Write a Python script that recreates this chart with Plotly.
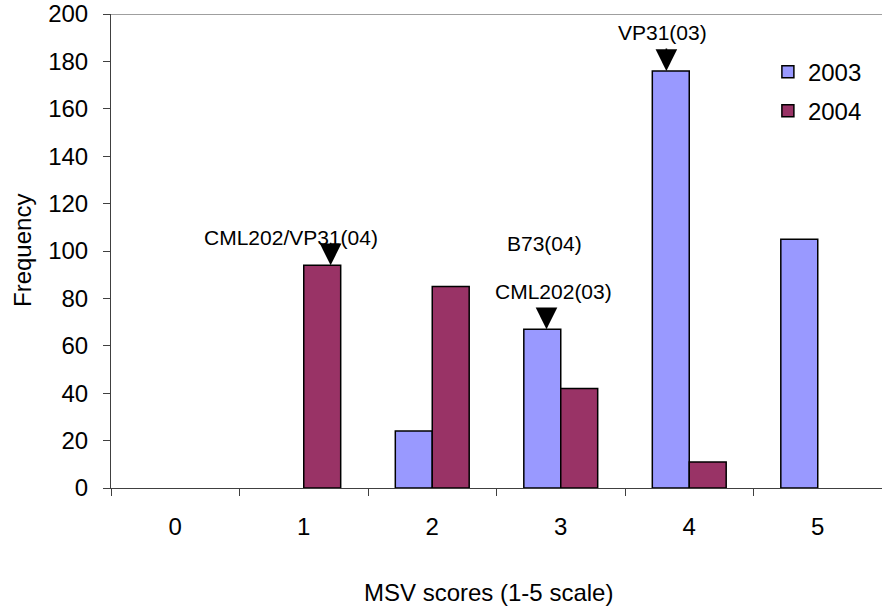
import plotly.graph_objects as go

categories = ["0", "1", "2", "3", "4", "5"]
freq_2003 = [0, 0, 24, 67, 176, 105]
freq_2004 = [0, 94, 85, 42, 11, 0]
y_ticks = list(range(0, 201, 20))
series_names = ["2003", "2004"]
series_colors = ["#9999FF", "#993366"]

# annotation labels (text, x position in category index units, y value)
labels = [
    ("CML202/VP31(04)", 0.904, 105.5),
    ("B73(04)", 2.872, 103.2),
    ("CML202(03)", 2.946, 83.0),
    ("VP31(03)", 3.793, 192.0),
]
# arrows (x in category index units, y value at tip, tail length px)
arrows = [
    (1.209, 94, 24),
    (2.889, 67, 20),
    (3.822, 176, 24),
]

FONT = "Liberation Sans, Arial, sans-serif"


def outline_widths(vals):
    return [1.5 if v else 0 for v in vals]


fig = go.Figure()
for name, vals, col in zip(series_names, [freq_2003, freq_2004], series_colors):
    fig.add_trace(go.Bar(x=categories, y=vals, name=name, showlegend=False,
                         marker=dict(color=col,
                                     line=dict(color="black", width=outline_widths(vals)))))
# legend entries (no data, on an overlaying hidden axis so grouping is unaffected)
for i, (name, col) in enumerate(zip(series_names, series_colors)):
    fig.add_trace(go.Bar(x=[None], y=[None], name=name, xaxis="x2", yaxis="y2",
                         legendgroup="g%d" % i, showlegend=True,
                         marker=dict(color=col, line=dict(color="black", width=1.5))))

annotations = []
for txt, x, y in labels:
    annotations.append(dict(x=x, y=y, xref="x", yref="y", text=txt, showarrow=False,
                            font=dict(size=21, color="black", family=FONT),
                            xanchor="center", yanchor="middle"))
for x, y, L in arrows:
    annotations.append(dict(x=x, y=y, xref="x", yref="y", text="", showarrow=True,
                            ax=0, ay=-L, arrowhead=2, arrowsize=2.7, arrowwidth=1.6,
                            arrowcolor="black", standoff=0))
annotations.append(dict(x=0.49, y=0, xref="paper", yref="paper", yshift=-104,
                        text="MSV scores (1-5 scale)", showarrow=False,
                        font=dict(size=24, color="black", family=FONT),
                        xanchor="center", yanchor="middle"))
annotations.append(dict(x=0, y=0.5, xref="paper", yref="paper", xshift=-89,
                        text="Frequency", showarrow=False, textangle=-90,
                        font=dict(size=24, color="black", family=FONT),
                        xanchor="center", yanchor="middle"))

fig.update_layout(
    width=882, height=613,
    margin=dict(l=111, r=0, t=12, b=125),
    paper_bgcolor="white", plot_bgcolor="white",
    barmode="group", bargap=0.425, bargroupgap=0,
    font=dict(family=FONT, size=24, color="black"),
    showlegend=True,
    legend=dict(x=0.852, y=0.925, xanchor="left", yanchor="top",
                font=dict(size=24, color="black", family=FONT),
                traceorder="grouped", tracegroupgap=5,
                bgcolor="rgba(0,0,0,0)", borderwidth=0),
    annotations=annotations,
    shapes=[dict(type="line", xref="paper", yref="y", x0=0, x1=1, y0=200, y1=200,
                 line=dict(color="#404040", width=1))],
    xaxis=dict(type="category", categoryorder="array", categoryarray=categories,
               range=[-0.5, 5.5], showline=True, linecolor="#404040", linewidth=1,
               ticks="outside", tickson="boundaries", ticklen=7,
               tickcolor="#404040", showgrid=False, zeroline=False,
               tickfont=dict(size=24, color="black", family=FONT),
               ticklabelstandoff=17),
    yaxis=dict(range=[0, 200], tickvals=y_ticks, showline=True, linecolor="#404040",
               linewidth=1, ticks="outside", ticklen=7, tickcolor="#404040",
               showgrid=False, zeroline=False, ticklabeloverflow="allow",
               tickfont=dict(size=24, color="black", family=FONT),
               ticklabelstandoff=10),
    xaxis2=dict(overlaying="x", visible=False, range=[0, 1]),
    yaxis2=dict(overlaying="y", visible=False, range=[0, 1]),
)

fig.write_html("out.html")
